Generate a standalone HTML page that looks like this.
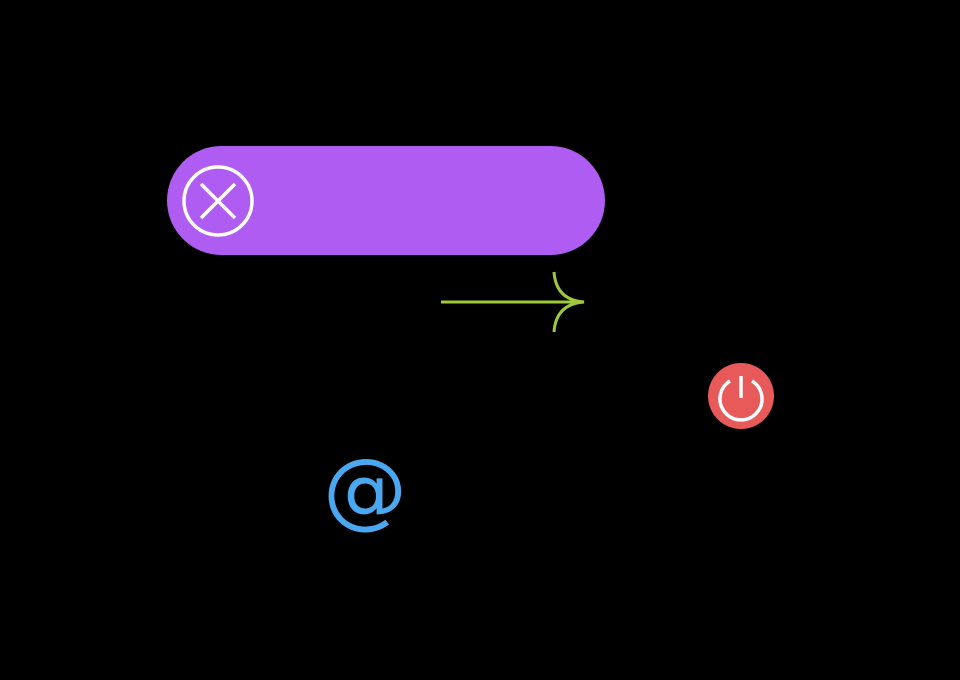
<!DOCTYPE html>
<html><head><style>
html,body{margin:0;padding:0;background:#000;width:960px;height:680px;overflow:hidden}
</style></head><body>
<svg width="960" height="680" viewBox="0 0 960 680" xmlns="http://www.w3.org/2000/svg">
<rect width="960" height="680" fill="#000"/>
<rect x="167" y="146" width="438" height="109" rx="54.5" fill="#ae5cf2"/>
<circle cx="218" cy="201" r="34" fill="none" stroke="#fff" stroke-width="3.5"/>
<path d="M201 184 L235 218 M235 184 L201 218" stroke="#fff" stroke-width="3.5"/>
<path d="M441 302 H584" stroke="#9dc93a" stroke-width="3"/>
<path d="M554 272 Q556 300 584 302 Q556 304 554 332" fill="none" stroke="#9dc93a" stroke-width="3"/>
<circle cx="741" cy="396" r="33" fill="#e85a5a"/>
<path d="M730 381 A21 21 0 1 0 752 381" fill="none" stroke="#fff" stroke-width="3.5"/>
<path d="M741 376 V398" stroke="#fff" stroke-width="3.5"/>
<text x="365" y="518" text-anchor="middle" font-family="DejaVu Sans, sans-serif" font-size="84" fill="#4aa8f0">@</text>
</svg>
</body></html>
